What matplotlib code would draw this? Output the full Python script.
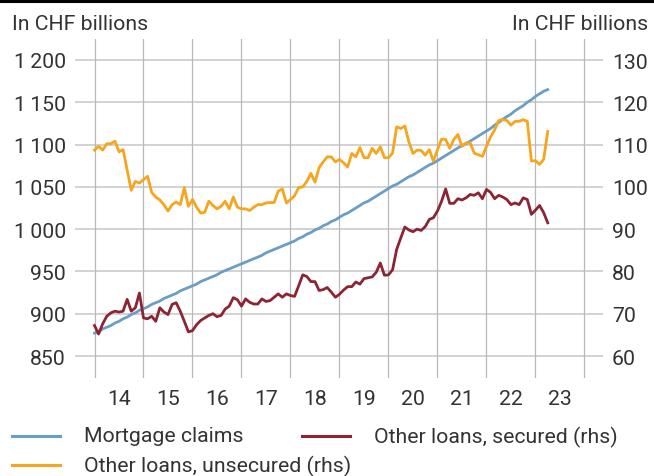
import matplotlib.pyplot as plt
import numpy as np
from matplotlib.lines import Line2D

plt.rcParams["font.family"] = ["Roboto", "DejaVu Sans"]

# Monthly series, Jan 2014 - Apr 2023 (CHF billions)
mortgage = [
    877, 879, 882, 884, 886, 889, 891, 894, 896, 899, 901, 904,
    906, 908, 911, 913, 915, 918, 920, 922, 924, 927, 929, 931,
    933, 935, 938, 940, 942, 944, 946, 949, 951, 953, 955, 957,
    959, 961, 963, 965, 967, 969, 972, 974, 976, 978, 980, 982,
    984, 986, 989, 991, 994, 996, 999, 1001, 1004, 1006, 1009, 1011,
    1014, 1017, 1019, 1022, 1025, 1028, 1031, 1033, 1036, 1039, 1042, 1045,
    1048, 1051, 1053, 1056, 1059, 1062, 1064, 1067, 1070, 1073, 1076, 1078,
    1081, 1084, 1087, 1090, 1093, 1096, 1099, 1101, 1104, 1107, 1110, 1113,
    1116, 1119, 1123, 1126, 1130, 1133, 1136, 1140, 1143, 1146, 1150, 1153,
    1157, 1160, 1163, 1165,
]
secured = [
    67.2, 65.2, 67.6, 69.4, 70.2, 70.6, 70.4, 70.6, 73.4, 70.6, 71.4, 74.9,
    69.0, 68.8, 69.4, 68.2, 71.4, 70.4, 69.8, 72.2, 72.6, 70.6, 68.2, 65.7,
    66.0, 67.4, 68.4, 69.0, 69.6, 70.0, 69.3, 69.6, 71.1, 71.8, 73.8, 73.3,
    71.8, 73.5, 72.7, 72.3, 72.3, 73.5, 72.9, 73.1, 73.9, 74.7, 73.9, 74.7,
    74.3, 74.1, 76.6, 79.2, 78.8, 77.6, 77.6, 75.5, 75.7, 76.2, 75.1, 73.9,
    74.6, 75.6, 76.4, 76.4, 77.5, 77.0, 78.3, 78.5, 78.7, 79.8, 82.0, 79.1,
    79.2, 80.4, 85.2, 87.9, 90.5, 89.8, 89.4, 90.0, 89.7, 90.6, 92.3, 92.7,
    94.3, 96.6, 99.5, 96.1, 96.1, 97.2, 96.9, 97.4, 98.2, 98.0, 98.6, 97.2,
    99.4, 98.7, 97.2, 98.0, 97.6, 97.0, 95.8, 96.2, 95.8, 97.4, 97.0, 93.5,
    94.5, 95.6, 93.9, 91.5,
]
unsecured = [
    108.7, 109.6, 108.7, 110.2, 110.2, 110.8, 108.3, 108.8, 104.0, 99.2, 101.3, 100.9,
    101.7, 102.5, 98.7, 97.6, 96.9, 95.8, 94.3, 95.8, 96.4, 95.8, 99.8, 95.4,
    97.0, 95.2, 93.8, 94.0, 96.6, 95.6, 94.8, 95.4, 96.6, 94.8, 97.6, 95.2,
    94.8, 94.8, 94.4, 95.2, 95.8, 95.8, 96.2, 96.3, 96.3, 99.0, 99.5, 96.2,
    97.0, 97.9, 99.8, 100.0, 101.3, 103.2, 101.1, 104.5, 105.9, 107.1, 107.1, 105.9,
    106.5, 105.7, 104.7, 107.9, 107.1, 109.3, 106.9, 106.9, 109.1, 107.9, 109.5, 106.9,
    106.9, 108.0, 114.2, 113.8, 114.4, 110.6, 107.9, 108.7, 108.6, 107.5, 108.8, 106.1,
    108.8, 111.3, 111.2, 109.1, 111.2, 112.4, 109.6, 110.4, 110.4, 108.0, 107.6, 107.2,
    109.6, 111.8, 113.5, 115.7, 115.9, 115.7, 114.6, 115.5, 115.5, 115.9, 115.5, 106.1,
    106.2, 105.3, 106.5, 113.1,
]

start_year = 2014
year_edges = list(range(2014, 2025))
year_labels = ["14", "15", "16", "17", "18", "19", "20", "21", "22", "23"]
left_ticks = [850, 900, 950, 1000, 1050, 1100, 1150, 1200]
right_ticks = [60, 70, 80, 90, 100, 110, 120, 130]

BLUE = "#6a9ec7"
RED = "#8c2433"
ORANGE = "#f6a51e"
TEXT = "#333333"
FS = 15.3
W, H = 654, 477


def fx(px):
    return px / W


def fy(py):
    return 1 - py / H


x = start_year + np.arange(len(mortgage)) / 12

fig = plt.figure(figsize=(W / 100, H / 100), dpi=100)
ax = fig.add_axes([fx(75), fy(379), fx(603) - fx(75), fy(40) - fy(379)])
ax2 = ax.twinx()

ax.set_xlim(2013.602, 2024.378)
ax.set_ylim(824.0, 1224.8)
ax2.set_ylim(54.80, 134.97)

for a in (ax, ax2):
    for s in a.spines.values():
        s.set_visible(False)

for yv in left_ticks:
    ax.axhline(yv, color="#d2d2d2", lw=1.4, zorder=0)
for xv in year_edges:
    ax.axvline(xv, color="#b8b8b8", lw=0.9, zorder=0)

ax.plot(x, mortgage, color=BLUE, lw=2.0, solid_joinstyle="round")
ax2.plot(x, secured, color=RED, lw=2.0, solid_joinstyle="round")
ax2.plot(x, unsecured, color=ORANGE, lw=2.0, solid_joinstyle="round")

ax.set_yticks(left_ticks)
ax.set_yticklabels([f"{v:,}".replace(",", "\u2009") for v in left_ticks])
ax2.set_yticks(right_ticks)
ax2.set_yticklabels([str(v) for v in right_ticks])
ax.set_xticks([y + 0.5 for y in year_edges[:-1]])
ax.set_xticklabels(year_labels)

ax.tick_params(axis="y", length=0, pad=6.5, labelsize=FS, labelcolor=TEXT)
ax2.tick_params(axis="y", length=0, pad=6.5, labelsize=FS, labelcolor=TEXT)
ax.tick_params(axis="x", length=0, pad=8, labelsize=FS, labelcolor=TEXT)

fig.text(fx(12), fy(30), "In CHF billions", fontsize=FS, color=TEXT,
         ha="left", va="baseline")
fig.text(fx(648), fy(30), "In CHF billions", fontsize=FS, color=TEXT,
         ha="right", va="baseline")

# rule across the top
fig.add_artist(Line2D([0, 1], [fy(1.5), fy(1.5)], color="black", lw=2.2))

# legend
legend_items = [
    (12, 437, BLUE, "Mortgage claims"),
    (302, 437, RED, "Other loans, secured (rhs)"),
    (12, 466, ORANGE, "Other loans, unsecured (rhs)"),
]
for lx, ly, col, label in legend_items:
    fig.add_artist(Line2D([fx(lx), fx(lx + 48)], [fy(ly), fy(ly)],
                          color=col, lw=2.2))
    fig.text(fx(lx + 72), fy(ly), label, fontsize=FS, color=TEXT,
             ha="left", va="center")

fig.savefig("out.png", dpi=100)
